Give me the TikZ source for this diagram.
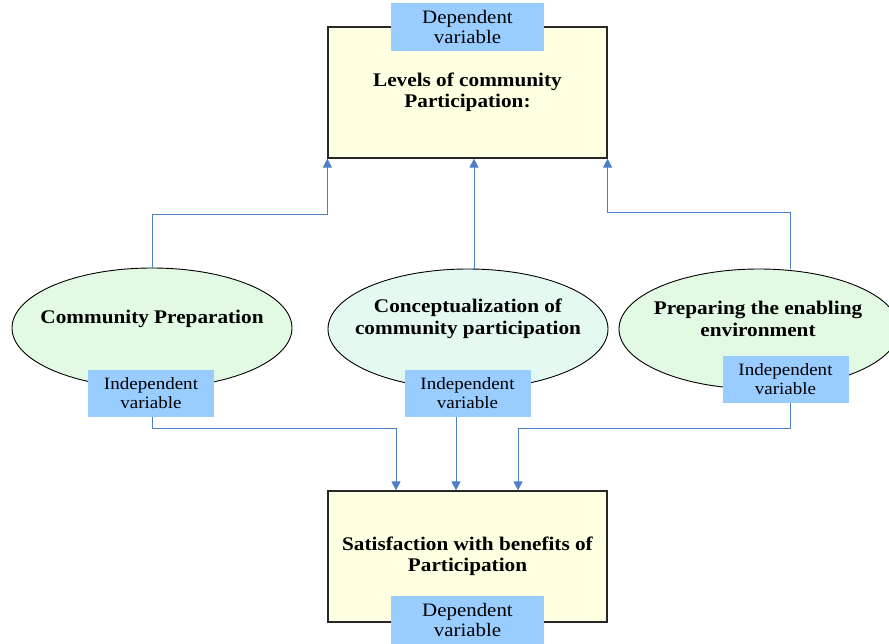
\documentclass[tikz,border=0pt]{standalone}
\usepackage{fontspec}
\setmainfont{Liberation Serif}[FakeStretch=1.1]
\usetikzlibrary{arrows.meta,shapes.geometric}
\definecolor{boxfill}{HTML}{FFFFE1}
\definecolor{ovalfill}{HTML}{E2F9E4}
\definecolor{ovalfillb}{HTML}{E4FAF1}
\definecolor{tagfill}{HTML}{99CCFF}
\definecolor{linkblue}{HTML}{4F7FC6}
\begin{document}
\begin{tikzpicture}[x=1pt,y=-1pt,
    mainbox/.style={draw=black!85,line width=1.2pt,fill=boxfill,minimum width=279pt,minimum height=131pt,inner sep=0pt,align=center,font=\fontsize{19.3}{21}\selectfont\bfseries},
    oval/.style={ellipse,draw=black,line width=0.9pt,fill=ovalfill,minimum width=280pt,minimum height=120pt,inner sep=0pt},
    ovaltext/.style={align=center,inner sep=0pt,font=\fontsize{19.3}{22}\selectfont\bfseries},
    deptag/.style={fill=tagfill,minimum width=153pt,minimum height=48pt,inner sep=0pt,align=center,font=\fontsize{19}{20}\selectfont},
    indtag/.style={fill=tagfill,minimum width=126pt,minimum height=47pt,inner sep=0pt,align=center,font=\fontsize{17.3}{19}\selectfont},
    link/.style={draw=linkblue,line width=1pt,-{Triangle[width=9pt,length=9pt]}}]
    \useasboundingbox (0,0) rectangle (889,643);
    \clip (0,0) rectangle (889,643);
    % Dependent boxes
    \node[mainbox] (lv) at (467.5,92.5) {Levels of community\\Participation:};
    \node[mainbox] (sb) at (467.5,556.5) {Satisfaction with benefits of\\Participation};
    % Ovals
    \node[oval] (cp) at (152,328) {};
    \node[oval,fill=ovalfillb] (cc) at (468,329) {};
    \node[oval] (pe) at (759,329) {};
    \node[ovaltext] at (152,319) {Community Preparation};
    \node[ovaltext] at (468,319) {Conceptualization of\\community participation};
    \node[ovaltext] at (758,319) {Preparing the enabling\\environment};
    % Variable tags
    \node[deptag] (d1) at (467.5,26.5) {Dependent\\variable};
    \node[deptag] (d2) at (467.5,619.5) {Dependent\\variable};
    \node[indtag] (i1) at (151,393) {Independent\\variable};
    \node[indtag] (i2) at (467.5,393.5) {Independent\\variable};
    \node[indtag] (i3) at (785.5,379.5) {Independent\\variable};
    % Links up to the top box
    \draw[link] (cp.north) -- ++(0,-53) -| (lv.south west);
    \draw[link] ([xshift=6pt]cc.north) -- ([xshift=6pt]cc.north |- lv.south);
    \draw[link] ([xshift=31pt]pe.north) -- ++(0,-56) -| (lv.south east);
    % Links down to the bottom box
    \draw[link] ([xshift=1pt]i1.south) -- ++(0,12) -| ([xshift=-71.5pt]sb.north);
    \draw[link] ([xshift=-11.5pt]i2.south) -- ([xshift=-11.5pt]sb.north);
    \draw[link] ([xshift=4.5pt]i3.south) -- ++(0,25) -| ([xshift=50.5pt]sb.north);
\end{tikzpicture}
\end{document}
